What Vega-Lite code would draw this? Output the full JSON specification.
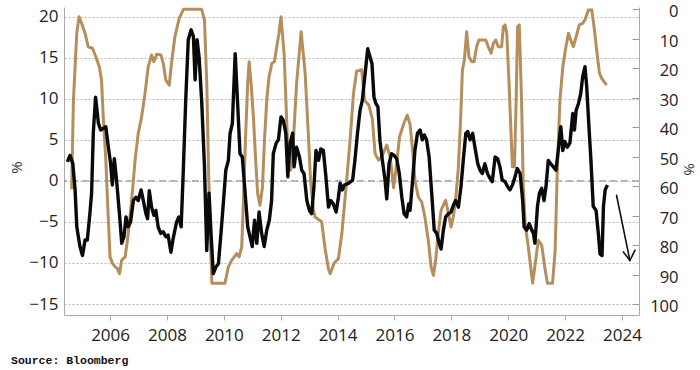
{
  "$schema": "https://vega.github.io/schema/vega-lite/v6.json",
  "width": 575,
  "height": 308,
  "autosize": {"type": "none"},
  "padding": {"left": 64, "top": 7, "right": 61, "bottom": 55},
  "background": "white",
  "config": {"view": {"stroke": null}, "font": "Open Sans"},
  "title": {"text": "Source: Bloomberg", "orient": "bottom", "anchor": "start", "frame": "group", "font": "Liberation Mono", "fontSize": 11.5, "fontWeight": "bold", "color": "#111", "dx": -53, "offset": 12},
  "datasets": {
    "black": [
      {"t":2004.50,"v":2.3},{"t":2004.59,"v":3.1},{"t":2004.69,"v":2.1},{"t":2004.77,"v":-1.1},{"t":2004.83,"v":-5.6},{"t":2004.94,"v":-8.0},{"t":2005.03,"v":-9.1},{"t":2005.12,"v":-7.2},{"t":2005.20,"v":-7.2},{"t":2005.29,"v":-4.0},{"t":2005.35,"v":-1.5},{"t":2005.41,"v":5.8},{"t":2005.49,"v":10.2},{"t":2005.59,"v":7.0},{"t":2005.67,"v":6.2},{"t":2005.76,"v":6.4},{"t":2005.85,"v":6.6},{"t":2005.94,"v":4.1},{"t":2006.02,"v":2.1},{"t":2006.08,"v":-0.5},{"t":2006.15,"v":2.7},{"t":2006.23,"v":0.0},{"t":2006.33,"v":-4.0},{"t":2006.41,"v":-7.6},{"t":2006.49,"v":-6.8},{"t":2006.56,"v":-4.4},{"t":2006.64,"v":-5.6},{"t":2006.72,"v":-5.0},{"t":2006.82,"v":-2.4},{"t":2006.91,"v":-2.0},{"t":2006.99,"v":-2.4},{"t":2007.09,"v":-1.1},{"t":2007.17,"v":-2.4},{"t":2007.26,"v":-4.0},{"t":2007.32,"v":-4.6},{"t":2007.38,"v":-1.2},{"t":2007.46,"v":-3.2},{"t":2007.54,"v":-4.2},{"t":2007.61,"v":-3.6},{"t":2007.69,"v":-5.6},{"t":2007.78,"v":-6.4},{"t":2007.87,"v":-6.2},{"t":2007.96,"v":-6.8},{"t":2008.04,"v":-6.6},{"t":2008.14,"v":-8.7},{"t":2008.22,"v":-7.0},{"t":2008.34,"v":-5.0},{"t":2008.42,"v":-4.4},{"t":2008.50,"v":-5.6},{"t":2008.58,"v":1.7},{"t":2008.66,"v":9.8},{"t":2008.75,"v":17.2},{"t":2008.85,"v":18.4},{"t":2008.93,"v":17.6},{"t":2008.99,"v":12.3},{"t":2009.06,"v":17.2},{"t":2009.13,"v":15.1},{"t":2009.22,"v":9.8},{"t":2009.32,"v":1.7},{"t":2009.40,"v":-8.5},{"t":2009.48,"v":-1.5},{"t":2009.55,"v":-6.4},{"t":2009.63,"v":-11.3},{"t":2009.72,"v":-10.5},{"t":2009.81,"v":-10.1},{"t":2009.90,"v":-6.4},{"t":2009.99,"v":-2.4},{"t":2010.07,"v":1.3},{"t":2010.16,"v":2.5},{"t":2010.22,"v":5.8},{"t":2010.30,"v":7.0},{"t":2010.40,"v":15.5},{"t":2010.48,"v":9.8},{"t":2010.57,"v":3.3},{"t":2010.65,"v":2.9},{"t":2010.75,"v":-1.5},{"t":2010.84,"v":-5.6},{"t":2010.92,"v":-6.8},{"t":2011.00,"v":-8.0},{"t":2011.08,"v":-4.8},{"t":2011.16,"v":-7.6},{"t":2011.24,"v":-3.8},{"t":2011.33,"v":-6.4},{"t":2011.42,"v":-8.0},{"t":2011.51,"v":-6.0},{"t":2011.60,"v":-4.8},{"t":2011.68,"v":-2.4},{"t":2011.74,"v":3.3},{"t":2011.84,"v":4.6},{"t":2011.92,"v":5.0},{"t":2012.01,"v":7.8},{"t":2012.09,"v":7.4},{"t":2012.18,"v":5.8},{"t":2012.25,"v":0.5},{"t":2012.33,"v":4.6},{"t":2012.42,"v":5.8},{"t":2012.47,"v":1.7},{"t":2012.56,"v":4.1},{"t":2012.66,"v":2.9},{"t":2012.74,"v":1.3},{"t":2012.82,"v":0.9},{"t":2012.92,"v":-2.4},{"t":2013.01,"v":-3.6},{"t":2013.09,"v":-4.0},{"t":2013.17,"v":-0.7},{"t":2013.24,"v":3.7},{"t":2013.33,"v":2.5},{"t":2013.41,"v":3.9},{"t":2013.50,"v":3.7},{"t":2013.59,"v":0.5},{"t":2013.68,"v":-3.2},{"t":2013.76,"v":-2.4},{"t":2013.85,"v":-2.8},{"t":2013.95,"v":-3.8},{"t":2014.03,"v":-2.0},{"t":2014.09,"v":-0.3},{"t":2014.17,"v":-1.1},{"t":2014.24,"v":-0.5},{"t":2014.38,"v":-0.3},{"t":2014.53,"v":0.1},{"t":2014.61,"v":2.5},{"t":2014.70,"v":5.8},{"t":2014.79,"v":8.6},{"t":2014.87,"v":9.8},{"t":2014.97,"v":13.1},{"t":2015.06,"v":16.1},{"t":2015.14,"v":15.1},{"t":2015.21,"v":14.3},{"t":2015.28,"v":10.2},{"t":2015.35,"v":9.4},{"t":2015.42,"v":9.0},{"t":2015.49,"v":4.9},{"t":2015.59,"v":2.1},{"t":2015.67,"v":0.1},{"t":2015.73,"v":-2.2},{"t":2015.81,"v":2.1},{"t":2015.90,"v":3.3},{"t":2015.99,"v":3.1},{"t":2016.08,"v":2.7},{"t":2016.17,"v":0.9},{"t":2016.26,"v":-2.0},{"t":2016.34,"v":-4.0},{"t":2016.43,"v":-4.4},{"t":2016.50,"v":-2.8},{"t":2016.55,"v":-3.6},{"t":2016.63,"v":-0.3},{"t":2016.72,"v":3.7},{"t":2016.81,"v":5.8},{"t":2016.90,"v":6.2},{"t":2016.98,"v":5.0},{"t":2017.05,"v":5.6},{"t":2017.13,"v":5.0},{"t":2017.22,"v":2.9},{"t":2017.31,"v":-1.5},{"t":2017.40,"v":-6.0},{"t":2017.49,"v":-6.4},{"t":2017.57,"v":-7.6},{"t":2017.64,"v":-8.3},{"t":2017.72,"v":-6.0},{"t":2017.80,"v":-4.4},{"t":2017.90,"v":-4.0},{"t":2017.99,"v":-3.8},{"t":2018.07,"v":-3.0},{"t":2018.15,"v":-2.4},{"t":2018.25,"v":-3.2},{"t":2018.34,"v":-0.7},{"t":2018.42,"v":2.5},{"t":2018.51,"v":5.8},{"t":2018.58,"v":6.0},{"t":2018.66,"v":5.0},{"t":2018.75,"v":5.8},{"t":2018.83,"v":4.1},{"t":2018.93,"v":2.1},{"t":2019.01,"v":1.3},{"t":2019.09,"v":0.9},{"t":2019.18,"v":2.1},{"t":2019.27,"v":0.9},{"t":2019.36,"v":0.3},{"t":2019.44,"v":-0.1},{"t":2019.54,"v":2.9},{"t":2019.63,"v":2.7},{"t":2019.71,"v":1.7},{"t":2019.79,"v":0.1},{"t":2019.89,"v":-0.1},{"t":2019.98,"v":-0.7},{"t":2020.06,"v":-1.1},{"t":2020.15,"v":-0.5},{"t":2020.24,"v":0.5},{"t":2020.32,"v":1.5},{"t":2020.42,"v":0.9},{"t":2020.51,"v":-2.4},{"t":2020.56,"v":-5.6},{"t":2020.65,"v":-6.0},{"t":2020.74,"v":-5.2},{"t":2020.83,"v":-6.0},{"t":2020.89,"v":-6.4},{"t":2020.94,"v":-7.6},{"t":2021.03,"v":-3.1},{"t":2021.10,"v":-1.5},{"t":2021.18,"v":-0.9},{"t":2021.26,"v":-2.4},{"t":2021.33,"v":-0.7},{"t":2021.41,"v":2.5},{"t":2021.49,"v":2.1},{"t":2021.59,"v":1.7},{"t":2021.68,"v":1.3},{"t":2021.76,"v":3.7},{"t":2021.85,"v":6.6},{"t":2021.92,"v":3.7},{"t":2021.99,"v":4.8},{"t":2022.08,"v":4.1},{"t":2022.17,"v":4.6},{"t":2022.27,"v":8.2},{"t":2022.33,"v":6.2},{"t":2022.39,"v":8.6},{"t":2022.47,"v":9.4},{"t":2022.55,"v":10.6},{"t":2022.62,"v":12.7},{"t":2022.70,"v":13.9},{"t":2022.76,"v":11.5},{"t":2022.84,"v":6.6},{"t":2022.91,"v":2.5},{"t":2022.99,"v":-3.1},{"t":2023.09,"v":-3.6},{"t":2023.17,"v":-6.4},{"t":2023.23,"v":-8.9},{"t":2023.30,"v":-9.1},{"t":2023.35,"v":-3.1},{"t":2023.41,"v":-1.1},{"t":2023.49,"v":-0.5}
    ],
    "tan": [
      {"t":2004.65,"v":61},{"t":2004.71,"v":31},{"t":2004.77,"v":19.5},{"t":2004.83,"v":8},{"t":2004.91,"v":2.5},{"t":2005.00,"v":4.8},{"t":2005.12,"v":8.1},{"t":2005.23,"v":12.7},{"t":2005.38,"v":13.2},{"t":2005.50,"v":16.1},{"t":2005.62,"v":19.5},{"t":2005.70,"v":24},{"t":2005.76,"v":36.4},{"t":2005.85,"v":51},{"t":2005.92,"v":67},{"t":2006.00,"v":84},{"t":2006.09,"v":86.2},{"t":2006.18,"v":87.3},{"t":2006.26,"v":87.9},{"t":2006.33,"v":89.6},{"t":2006.41,"v":85},{"t":2006.53,"v":83.9},{"t":2006.61,"v":78.3},{"t":2006.70,"v":70.4},{"t":2006.80,"v":60.2},{"t":2006.88,"v":51.1},{"t":2006.99,"v":42.1},{"t":2007.11,"v":36.4},{"t":2007.23,"v":28.5},{"t":2007.34,"v":19.5},{"t":2007.46,"v":15.5},{"t":2007.54,"v":17.8},{"t":2007.64,"v":15.2},{"t":2007.79,"v":15.5},{"t":2007.87,"v":18.3},{"t":2007.96,"v":24},{"t":2008.08,"v":25.7},{"t":2008.16,"v":18.3},{"t":2008.28,"v":9.3},{"t":2008.43,"v":3.1},{"t":2008.58,"v":0},{"t":2009.22,"v":0},{"t":2009.32,"v":3.6},{"t":2009.40,"v":25},{"t":2009.46,"v":53},{"t":2009.52,"v":76},{"t":2009.58,"v":92.8},{"t":2010.04,"v":92.8},{"t":2010.16,"v":87.3},{"t":2010.28,"v":85},{"t":2010.37,"v":83.9},{"t":2010.45,"v":82.8},{"t":2010.54,"v":83.9},{"t":2010.63,"v":80.5},{"t":2010.69,"v":64.7},{"t":2010.77,"v":42.1},{"t":2010.84,"v":25.1},{"t":2010.89,"v":17.8},{"t":2010.96,"v":25.1},{"t":2011.04,"v":36.4},{"t":2011.12,"v":51.1},{"t":2011.19,"v":62.4},{"t":2011.27,"v":66.4},{"t":2011.36,"v":60.2},{"t":2011.43,"v":44.3},{"t":2011.51,"v":30.8},{"t":2011.59,"v":22.9},{"t":2011.69,"v":18.3},{"t":2011.78,"v":17.8},{"t":2011.86,"v":12.7},{"t":2011.94,"v":8.1},{"t":2012.01,"v":2.5},{"t":2012.12,"v":15},{"t":2012.20,"v":35},{"t":2012.27,"v":52},{"t":2012.35,"v":54.5},{"t":2012.45,"v":44},{"t":2012.56,"v":25},{"t":2012.72,"v":7.6},{"t":2012.86,"v":21.7},{"t":2012.97,"v":42},{"t":2013.05,"v":58},{"t":2013.15,"v":68},{"t":2013.21,"v":70.4},{"t":2013.44,"v":72},{"t":2013.56,"v":81},{"t":2013.68,"v":88},{"t":2013.74,"v":89.6},{"t":2013.88,"v":86},{"t":2014.03,"v":84.5},{"t":2014.15,"v":76},{"t":2014.30,"v":60.2},{"t":2014.44,"v":44.3},{"t":2014.56,"v":28.5},{"t":2014.67,"v":21},{"t":2014.85,"v":20.5},{"t":2014.95,"v":30.8},{"t":2015.10,"v":32.5},{"t":2015.22,"v":37},{"t":2015.32,"v":48.9},{"t":2015.44,"v":51.1},{"t":2015.55,"v":50},{"t":2015.73,"v":46},{"t":2015.85,"v":50},{"t":2015.97,"v":60.5},{"t":2016.08,"v":52},{"t":2016.18,"v":43.2},{"t":2016.33,"v":38.7},{"t":2016.45,"v":35.9},{"t":2016.55,"v":39},{"t":2016.64,"v":48},{"t":2016.72,"v":58},{"t":2016.84,"v":63.6},{"t":2016.96,"v":65.3},{"t":2017.07,"v":70.4},{"t":2017.19,"v":78.3},{"t":2017.29,"v":87.3},{"t":2017.37,"v":90.2},{"t":2017.45,"v":85},{"t":2017.54,"v":76},{"t":2017.64,"v":68.1},{"t":2017.72,"v":66.4},{"t":2017.80,"v":64.7},{"t":2017.90,"v":69.2},{"t":2017.99,"v":73.8},{"t":2018.07,"v":70.4},{"t":2018.15,"v":64.7},{"t":2018.25,"v":53.4},{"t":2018.33,"v":36.4},{"t":2018.39,"v":20.6},{"t":2018.46,"v":17.2},{"t":2018.54,"v":7.6},{"t":2018.62,"v":16.1},{"t":2018.72,"v":17.8},{"t":2018.80,"v":17.8},{"t":2018.89,"v":12.7},{"t":2018.97,"v":10.4},{"t":2019.09,"v":10.4},{"t":2019.21,"v":10.4},{"t":2019.30,"v":12.7},{"t":2019.40,"v":14.9},{"t":2019.48,"v":11.5},{"t":2019.56,"v":10.4},{"t":2019.65,"v":12.7},{"t":2019.77,"v":12.7},{"t":2019.83,"v":5.9},{"t":2019.89,"v":5.3},{"t":2019.95,"v":8.1},{"t":2020.03,"v":25},{"t":2020.10,"v":42},{"t":2020.15,"v":53.4},{"t":2020.22,"v":53.4},{"t":2020.28,"v":30.8},{"t":2020.33,"v":5.9},{"t":2020.39,"v":5.3},{"t":2020.47,"v":30.8},{"t":2020.53,"v":60},{"t":2020.60,"v":73},{"t":2020.70,"v":80},{"t":2020.86,"v":92.8},{"t":2020.94,"v":87},{"t":2021.06,"v":78.3},{"t":2021.18,"v":80},{"t":2021.28,"v":87},{"t":2021.38,"v":92.8},{"t":2021.56,"v":92.8},{"t":2021.65,"v":82},{"t":2021.73,"v":53.4},{"t":2021.82,"v":30.8},{"t":2021.92,"v":19.5},{"t":2022.03,"v":12.7},{"t":2022.12,"v":8.1},{"t":2022.20,"v":10.4},{"t":2022.29,"v":12.7},{"t":2022.39,"v":9.3},{"t":2022.50,"v":5.3},{"t":2022.62,"v":4.8},{"t":2022.70,"v":3.6},{"t":2022.82,"v":0.2},{"t":2022.94,"v":0.2},{"t":2023.02,"v":5.9},{"t":2023.11,"v":13.8},{"t":2023.21,"v":21.7},{"t":2023.29,"v":23.4},{"t":2023.37,"v":24.5},{"t":2023.46,"v":25.7}
    ],
    "arrow": [
      {"xa":2023.81,"ya":-1.75,"xb":2024.28,"yb":-9.7},
      {"xa":2024.05,"ya":-8.66,"xb":2024.28,"yb":-9.7},
      {"xa":2024.46,"ya":-8.45,"xb":2024.28,"yb":-9.7}
    ],
    "zero": [{"v":0}]
  },
  "layer": [
    {
      "data": {"name": "tan"},
      "mark": {"type": "line", "color": "#B68E5C", "strokeWidth": 3, "strokeJoin": "round"},
      "encoding": {
        "x": {"field": "t", "type": "quantitative", "scale": {"domain": [2004.38, 2024.6], "nice": false, "zero": false},
              "axis": {"values": [2006,2008,2010,2012,2014,2016,2018,2020,2022,2024], "format": "d", "title": null, "grid": false, "domainColor": "#aaa", "tickColor": "#aaa", "tickSize": 5, "labelFontSize": 17, "labelColor": "#222", "labelPadding": 7, "labelFlush": false}},
        "y": {"field": "v", "type": "quantitative", "scale": {"domain": [-0.78, 103.6], "reverse": true, "nice": false, "zero": false},
              "axis": {"orient": "right", "values": [0,10,20,30,40,50,60,70,80,90,100], "grid": false, "domainColor": "#aaa", "tickColor": "#999", "tickSize": -7, "labelFontSize": 16.5, "labelColor": "#222", "labelAlign": "right", "labelPadding": 46, "labelOffset": 2.5, "title": "%", "titleFontSize": 15, "titleFontWeight": "normal", "titleColor": "#333", "titleX": 49, "titleY": 162, "titleAngle": 90, "titleAlign": "center", "titleBaseline": "middle"}}
      }
    },
    {
      "layer": [
        {
          "data": {"name": "zero"},
          "mark": {"type": "rule", "color": "#999", "strokeWidth": 1.2, "strokeDash": [7, 4]},
          "encoding": {"y": {"field": "v", "type": "quantitative"}}
        },
        {
          "data": {"name": "black"},
          "mark": {"type": "line", "color": "#0a0a0a", "strokeWidth": 3.4, "strokeJoin": "round"},
          "encoding": {
            "x": {"field": "t", "type": "quantitative", "scale": {"domain": [2004.38, 2024.6], "nice": false, "zero": false}, "axis": {"values": [2006,2008,2010,2012,2014,2016,2018,2020,2022,2024], "format": "d", "title": null, "grid": false, "domainColor": "#aaa", "tickColor": "#aaa", "tickSize": 5, "labelFontSize": 17, "labelColor": "#222", "labelPadding": 7, "labelFlush": false}},
            "y": {"field": "v", "type": "quantitative", "scale": {"domain": [-16.34, 21.18], "nice": false, "zero": false},
                  "axis": {"orient": "left", "values": [-15,-10,-5,0,5,10,15,20], "grid": true, "gridDash": [2, 2], "gridColor": "#bbb", "domainColor": "#aaa", "ticks": false, "labelFontSize": 17, "labelColor": "#222", "labelPadding": 6, "title": "%", "titleFontSize": 15, "titleFontWeight": "normal", "titleColor": "#333", "titleX": -48, "titleY": 160, "titleAngle": -90, "titleAlign": "center", "titleBaseline": "middle"}}
          }
        },
        {
          "data": {"name": "arrow"},
          "mark": {"type": "rule", "color": "#111", "strokeWidth": 1.6, "strokeCap": "round"},
          "encoding": {
            "x": {"field": "xa", "type": "quantitative"},
            "x2": {"field": "xb"},
            "y": {"field": "ya", "type": "quantitative"},
            "y2": {"field": "yb"}
          }
        }
      ]
    }
  ],
  "resolve": {"scale": {"y": "independent"}}
}
